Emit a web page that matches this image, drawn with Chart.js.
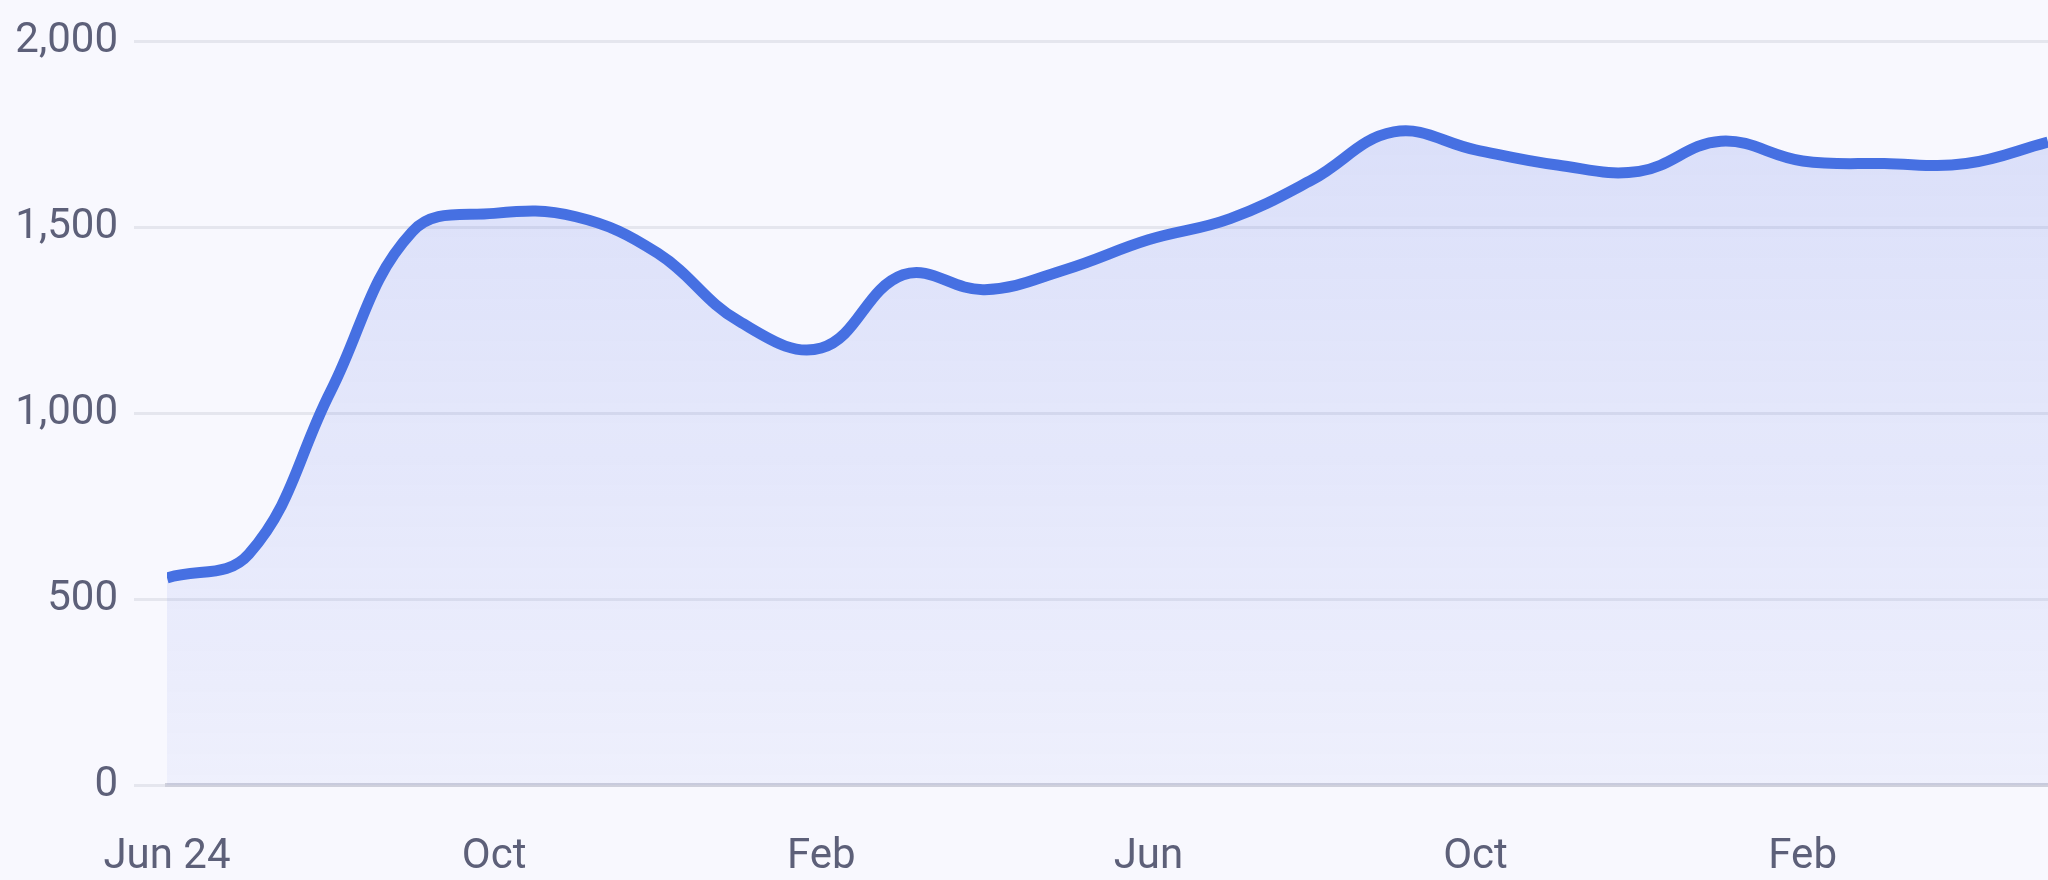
<!DOCTYPE html>
<html>
<head>
<meta charset="utf-8">
<script src="https://cdn.jsdelivr.net/npm/chart.js@4.4.1/dist/chart.umd.min.js"></script>
<style>
  html, body { margin: 0; padding: 0; background: #f8f8fe; }
  #wrap { width: 2048px; height: 880px; position: relative; }
</style>
</head>
<body>
<div id="wrap"><canvas id="c" width="2048" height="880"></canvas></div>
<script>
// Monthly positions (months since Jun 2024)
const monthIndex = [0,1,2,3,4,5,6,7,8,9,10,11,12,13,14,15,16,17,18,19,20,21,22,23];
const values = [557,621,1058,1488,1537,1528,1430,1246,1175,1372,1332,1387,1466,1523,1627,1756,1708,1667,1650,1731,1678,1671,1671,1729];
const tickLabels = ['Jun 24','Oct','Feb','Jun','Oct','Feb'];
const xTickPos = [0,4,8,12,16,20];
const yTicks = [0,500,1000,1500,2000];

const FONT = { family: 'Roboto', size: 42 };
const ctx = document.getElementById('c').getContext('2d');
const chart = new Chart(ctx, {
  type: 'line',
  data: {
    datasets: [{
      data: monthIndex.map((m, i) => ({ x: m, y: values[i] })),
      borderColor: '#4670e2',
      borderWidth: 11,
      pointRadius: 0,
      tension: 0.4,
      fill: 'origin',
      backgroundColor: (c) => {
        const a = c.chart.chartArea;
        if (!a) return 'rgba(80,110,230,0.12)';
        const g = c.chart.ctx.createLinearGradient(0, a.top, 0, a.bottom);
        g.addColorStop(0, 'rgba(90,115,230,0.20)');
        g.addColorStop(1, 'rgba(90,115,230,0.06)');
        return g;
      }
    }]
  },
  options: {
    responsive: false,
    animation: false,
    layout: { padding: { left: 5, right: 0, top: 13, bottom: 0 } },
    plugins: { legend: { display: false }, tooltip: { enabled: false } },
    scales: {
      x: {
        type: 'linear',
        min: 0, max: 23,
        afterBuildTicks: (s) => { s.ticks = xTickPos.map(v => ({ value: v })); },
        afterFit: (s) => { s.height = 95; },
        grid: { display: false, drawTicks: false },
        border: { display: true, color: '#cfd0dc', width: 4 },
        ticks: {
          autoSkip: false,
          maxRotation: 0,
          padding: 47,
          color: '#5d6079',
          font: FONT,
          callback: (v) => tickLabels[xTickPos.indexOf(v)] ?? ''
        }
      },
      y: {
        min: 0, max: 2000,
        afterBuildTicks: (s) => { s.ticks = yTicks.map(v => ({ value: v })); },
        afterFit: (s) => { s.width = 162; },
        grid: { color: '#e5e6ee', lineWidth: 3, tickLength: 33, drawTicks: true },
        border: { display: false },
        ticks: {
          padding: 16,
          color: '#5d6079',
          font: FONT,
          callback: (v) => v.toLocaleString('en-US')
        }
      }
    }
  }
});
</script>
</body>
</html>
